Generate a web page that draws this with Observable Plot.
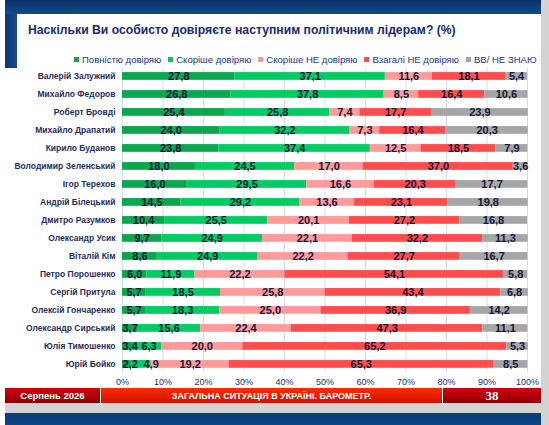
<!DOCTYPE html>
<html><head><meta charset="utf-8">
<script src="https://cdn.jsdelivr.net/npm/d3@7"></script>
<script src="https://cdn.jsdelivr.net/npm/@observablehq/plot@0.6"></script>
<style>
body{margin:0;background:#fff;font-family:"Liberation Sans",Arial,sans-serif;}
#page{position:relative;width:549px;height:425px;overflow:hidden;background:#fff;}
.abs{position:absolute;}
#topband{left:5px;top:0;width:536px;height:14px;background:linear-gradient(to bottom,#0b2f63,#164a8c);}
#leftstrip{left:5px;top:14px;width:12px;height:54px;background:linear-gradient(to right,#0a3570,#1a4c8e);}
#rightgray{left:541px;top:0;width:8px;height:425px;background:#d3d3d6;}
#botgray{left:5px;top:403px;width:536px;height:10px;background:#d3d3d6;}
#botblue{left:5px;top:413px;width:536px;height:12px;background:linear-gradient(to bottom,#0a3a78,#0d4586);}
#title{left:28px;top:23px;font-size:12.2px;font-weight:bold;color:#1b2a6b;white-space:nowrap;}
#legend{left:74px;top:54px;width:max-content;display:flex;font-size:9.55px;color:#1c3585;white-space:nowrap;}
#legend .it{display:flex;flex-shrink:0;align-items:center;margin-right:7px;}
#legend .it:last-child{margin-right:0;}
#legend .sw{width:5px;height:5px;margin-right:3px;flex-shrink:0;}
#chart{left:0;top:66px;}
.foot{top:388px;height:15px;color:#fff;font-weight:bold;display:flex;align-items:center;justify-content:center;white-space:nowrap;}
#f1{left:5px;width:95px;background:linear-gradient(to bottom,#d40010,#8c0000);font-size:9.5px;}
#f2{left:101px;width:341px;background:linear-gradient(to bottom,#ff2a00,#cc1500);font-size:9px;}
#f3{left:443px;width:98px;background:linear-gradient(to bottom,#d40010,#8c0000);font-size:13px;font-family:"Liberation Serif",serif;}
</style></head><body>
<div id="page">
  <div class="abs" id="topband"></div>
  <div class="abs" id="leftstrip"></div>
  <div class="abs" id="rightgray"></div>
  <div class="abs" id="title"></div>
  <div class="abs" id="legend"></div>
  <div class="abs" id="chart"></div>
  <div class="abs foot" id="f1"></div>
  <div class="abs foot" id="f2"></div>
  <div class="abs foot" id="f3"></div>
  <div class="abs" id="botgray"></div>
  <div class="abs" id="botblue"></div>
</div>
<script>
const titleText = "Наскільки Ви особисто довіряєте наступним політичним лідерам? (%)";
const footerLeft = "Серпень 2026";
const footerMid = "ЗАГАЛЬНА СИТУАЦІЯ В УКРАЇНІ. БАРОМЕТР.";
const footerRight = "38";

const names = [
  "Валерій Залужний","Михайло Федоров","Роберт Бровді","Михайло Драпатий","Кирило Буданов",
  "Володимир Зеленський","Ігор Терехов","Андрій Білецький","Дмитро Разумков","Олександр Усик",
  "Віталій Кім","Петро Порошенко","Сергій Притула","Олексій Гончаренко","Олександр Сирський",
  "Юлія Тимошенко","Юрій Бойко"
];
const categories = ["Повністю довіряю","Скоріше довіряю","Скоріше НЕ довіряю","Взагалі НЕ  довіряю","ВВ/ НЕ ЗНАЮ"];
const colors = ["#0aa74f","#00cc63","#ff9b9b","#ff4d4d","#a6a6a6"];

const fullTrust   = [27.8,26.8,25.4,24.0,23.8,18.0,16.0,14.5,10.4,9.7,8.6,6.0,5.7,5.7,3.7,3.4,2.2];
const ratherTrust = [37.1,37.8,25.8,32.2,37.4,24.5,29.5,29.2,25.5,24.9,24.9,11.9,18.5,18.3,15.6,6.3,4.9];
const ratherNot   = [11.6,8.5,7.4,7.3,12.5,17.0,16.6,13.6,20.1,22.1,22.2,22.2,25.8,25.0,22.4,20.0,19.2];
const notAtAll    = [18.1,16.4,17.7,16.4,18.5,37.0,20.3,23.1,27.2,32.2,27.7,54.1,43.4,36.9,47.3,65.2,65.3];
const dontKnow    = [5.4,10.6,23.9,20.3,7.9,3.6,17.7,19.8,16.8,11.3,16.7,5.8,6.8,14.2,11.1,5.3,8.5];
const series = [fullTrust, ratherTrust, ratherNot, notAtAll, dontKnow];

const xTicks = [0,10,20,30,40,50,60,70,80,90,100];

document.getElementById("title").textContent = titleText;
document.getElementById("f1").textContent = footerLeft;
document.getElementById("f2").textContent = footerMid;
document.getElementById("f3").textContent = footerRight;

const leg = document.getElementById("legend");
categories.forEach((c,i)=>{
  const it = document.createElement("div"); it.className="it";
  const sw = document.createElement("div"); sw.className="sw"; sw.style.background=colors[i];
  const tx = document.createElement("span"); tx.textContent = c;
  it.appendChild(sw); it.appendChild(tx); leg.appendChild(it);
});

const rows = [];
names.forEach((n,j)=>{
  categories.forEach((c,i)=>{ rows.push({name:n, cat:c, ci:i, value:series[i][j]}); });
});
const fmt = v => v.toFixed(1).replace(".", ",");
// label placement classes (Excel nudges labels of very thin segments)
const isStart = d => d.ci === 0 && d.value < 4;
const isEnd = d => d.ci === 1 && d.value < 5;
const isMid = d => !isStart(d) && !isEnd(d);
const textStyle = {fontSize: 11, fontWeight: "bold", fill: "#14183a"};
const labelIf = test => d => test(d) ? fmt(d.value) : null;

const chart = Plot.plot({
  width: 541, height: 322,
  marginLeft: 122, marginRight: 14, marginTop: 1.6, marginBottom: 15.7,
  style: {fontFamily: "Liberation Sans, Arial, sans-serif", background: "transparent", overflow: "visible"},
  x: {domain: [0,100], ticks: xTicks, tickFormat: d => d + "%"},
  y: {domain: names, paddingInner: 0.57, paddingOuter: 0.25, align: 0.5, round: false},
  color: {domain: categories, range: colors},
  marks: [
    Plot.gridX(xTicks, {stroke: "#d3dcf0", strokeOpacity: 1, strokeWidth: 1}),
    Plot.barX(rows, Plot.stackX({x: "value", y: "name", fill: "cat", z: "cat"})),
    Plot.text(rows, Plot.stackX({x: "value", y: "name", z: "cat", text: labelIf(isMid), ...textStyle})),
    Plot.text(rows, Plot.stackX1({x: "value", y: "name", z: "cat", text: labelIf(isStart), textAnchor: "start", ...textStyle})),
    Plot.text(rows, Plot.stackX2({x: "value", y: "name", z: "cat", text: labelIf(isEnd), ...textStyle})),
    Plot.axisX({ticks: xTicks, tickFormat: d => d + "%", tickSize: 0, tickPadding: 6, fontSize: 9, fill: "#1c2f6e", label: null}),
    Plot.axisY({tickSize: 0, tickPadding: 7, fontSize: 8.5, fontWeight: "bold", fill: "#1f2d5c", label: null})
  ]
});
document.getElementById("chart").appendChild(chart);
</script>
</body></html>
